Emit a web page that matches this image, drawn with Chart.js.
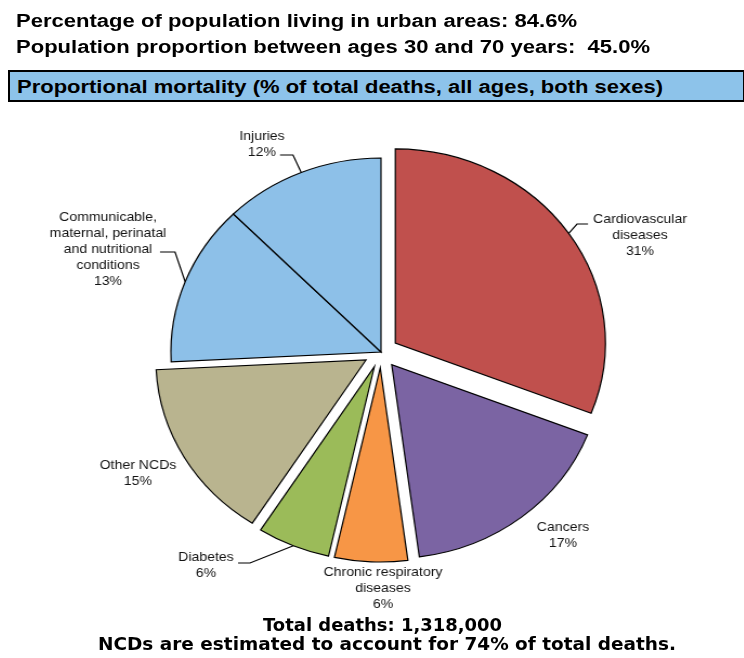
<!DOCTYPE html>
<html>
<head>
<meta charset="utf-8">
<script src="https://cdn.jsdelivr.net/npm/chart.js@4/dist/chart.umd.min.js"></script>
<style>
html,body{margin:0;padding:0;background:#fff;width:744px;height:658px;overflow:hidden;position:relative;}
.t{position:absolute;white-space:pre;transform-origin:0 0;color:#000;}
.h{font-family:"Liberation Sans",Arial,sans-serif;font-weight:bold;font-size:18px;line-height:18px;}
.f{font-family:"DejaVu Sans",Verdana,sans-serif;font-weight:bold;font-size:17px;line-height:17px;}
#box{position:absolute;left:8px;top:70px;width:737px;height:32px;box-sizing:border-box;border:2px solid #000;background:#8DC3EA;}
#c{position:absolute;left:0;top:0;transform:scaleX(1.083);transform-origin:381px 0;}
</style>
</head>
<body>
<canvas id="c" width="744" height="658"></canvas>
<div id="box"></div>
<script>
// ---------- data ----------
const categories = [
  'Cardiovascular diseases',
  'Cancers',
  'Chronic respiratory diseases',
  'Diabetes',
  'Other NCDs',
  'Communicable, maternal, perinatal and nutritional conditions',
  'Injuries'
];
const values = [30.9, 17.0, 5.6, 5.6, 15.1, 13.4, 12.4];
const labelLines = [
  ['Cardiovascular', 'diseases'],
  ['Cancers'],
  ['Chronic respiratory', 'diseases'],
  ['Diabetes'],
  ['Other NCDs'],
  ['Communicable,', 'maternal, perinatal', 'and nutritional', 'conditions'],
  ['Injuries']
];
const headerTexts = [
  'Percentage of population living in urban areas: 84.6%',
  'Population proportion between ages 30 and 70 years:  45.0%',
  'Proportional mortality (% of total deaths, all ages, both sexes)'
];
const footerTexts = [
  'Total deaths: 1,318,000',
  'NCDs are estimated to account for 74% of total deaths.'
];

// ---------- styles / layout ----------
const sliceColors = ['#C0504D', '#7B64A3', '#F79646', '#9BBB59', '#B9B48F', '#8DC0E8', '#8DC0E8'];
const explode = [16, 16, 16, 16, 16, 0, 0];
const SX = 1.083, CX0 = 381;
const toCX = px => CX0 + (px - CX0) / SX;
const LINE_STEP = 16;
const labelLayout = [
  {x: 640, y: 219, leader: [577, 224, 588, 224]},
  {x: 563, y: 527, leader: null},
  {x: 383, y: 572, leader: null},
  {x: 206, y: 557, leader: [250, 563, 238, 563]},
  {x: 138, y: 465, leader: null},
  {x: 108, y: 217, leader: [175, 252, 160, 252]},
  {x: 262, y: 136, leader: [293, 155, 280, 155]}
];
const textLayout = [
  {cls: 'h', top: 11.5, l: 16, r: 577, text: headerTexts[0]},
  {cls: 'h', top: 37.5, l: 16, r: 650, text: headerTexts[1]},
  {cls: 'h', top: 77.8, l: 17, r: 663, text: headerTexts[2]},
  {cls: 'f', top: 616.5, l: 263, r: 502, text: footerTexts[0]},
  {cls: 'f', top: 635.5, l: 98, r: 676, text: footerTexts[1]}
];

textLayout.forEach(t => {
  const el = document.createElement('div');
  el.className = 't ' + t.cls;
  el.textContent = t.text;
  el.style.left = t.l + 'px';
  el.style.top = t.top + 'px';
  document.body.appendChild(el);
  const w = el.getBoundingClientRect().width;
  el.style.transform = 'scaleX(' + ((t.r - t.l) / w) + ')';
});

const explodePlugin = {
  id: 'explodeDraw',
  beforeDatasetsDraw(chart) {
    const ctx = chart.ctx;
    const meta = chart.getDatasetMeta(0);
    meta.data.forEach((arc, i) => {
      const mid = (arc.startAngle + arc.endAngle) / 2;
      ctx.save();
      ctx.translate(Math.cos(mid) * explode[i], Math.sin(mid) * explode[i]);
      arc.draw(ctx, chart.chartArea);
      ctx.restore();
    });
    return false;
  }
};

const labelPlugin = {
  id: 'sliceLabels',
  afterDraw(chart) {
    const ctx = chart.ctx;
    const meta = chart.getDatasetMeta(0);
    ctx.save();
    ctx.font = '13px "Liberation Sans", Arial, sans-serif';
    ctx.fillStyle = '#141414';
    ctx.textAlign = 'center';
    ctx.textBaseline = 'middle';
    ctx.strokeStyle = '#000';
    ctx.lineWidth = 1.2;
    meta.data.forEach((arc, i) => {
      const L = labelLayout[i];
      const lines = labelLines[i].concat([Math.round(values[i]) + '%']);
      lines.forEach((s, k) => ctx.fillText(s, toCX(L.x), L.y + k * LINE_STEP));
      if (L.leader) {
        const mid = (arc.startAngle + arc.endAngle) / 2;
        const rr = arc.outerRadius + explode[i];
        const ax = arc.x + Math.cos(mid) * rr;
        const ay = arc.y + Math.sin(mid) * rr;
        ctx.beginPath();
        ctx.moveTo(ax, ay);
        ctx.lineTo(toCX(L.leader[0]), L.leader[1]);
        ctx.lineTo(toCX(L.leader[2]), L.leader[3]);
        ctx.stroke();
      }
    });
    ctx.restore();
  }
};

new Chart(document.getElementById('c'), {
  type: 'pie',
  data: {
    labels: categories,
    datasets: [{
      data: values,
      backgroundColor: sliceColors,
      borderColor: '#000',
      borderWidth: 1.2,
      borderJoinStyle: 'miter',
      offset: 0
    }]
  },
  options: {
    responsive: false,
    devicePixelRatio: 1,
    animation: false,
    events: [],
    radius: 194,
    layout: {padding: {left: 118, right: 100, top: 146, bottom: 100}},
    plugins: {legend: {display: false}, tooltip: {enabled: false}, title: {display: false}}
  },
  plugins: [explodePlugin, labelPlugin]
});
</script>
</body>
</html>
